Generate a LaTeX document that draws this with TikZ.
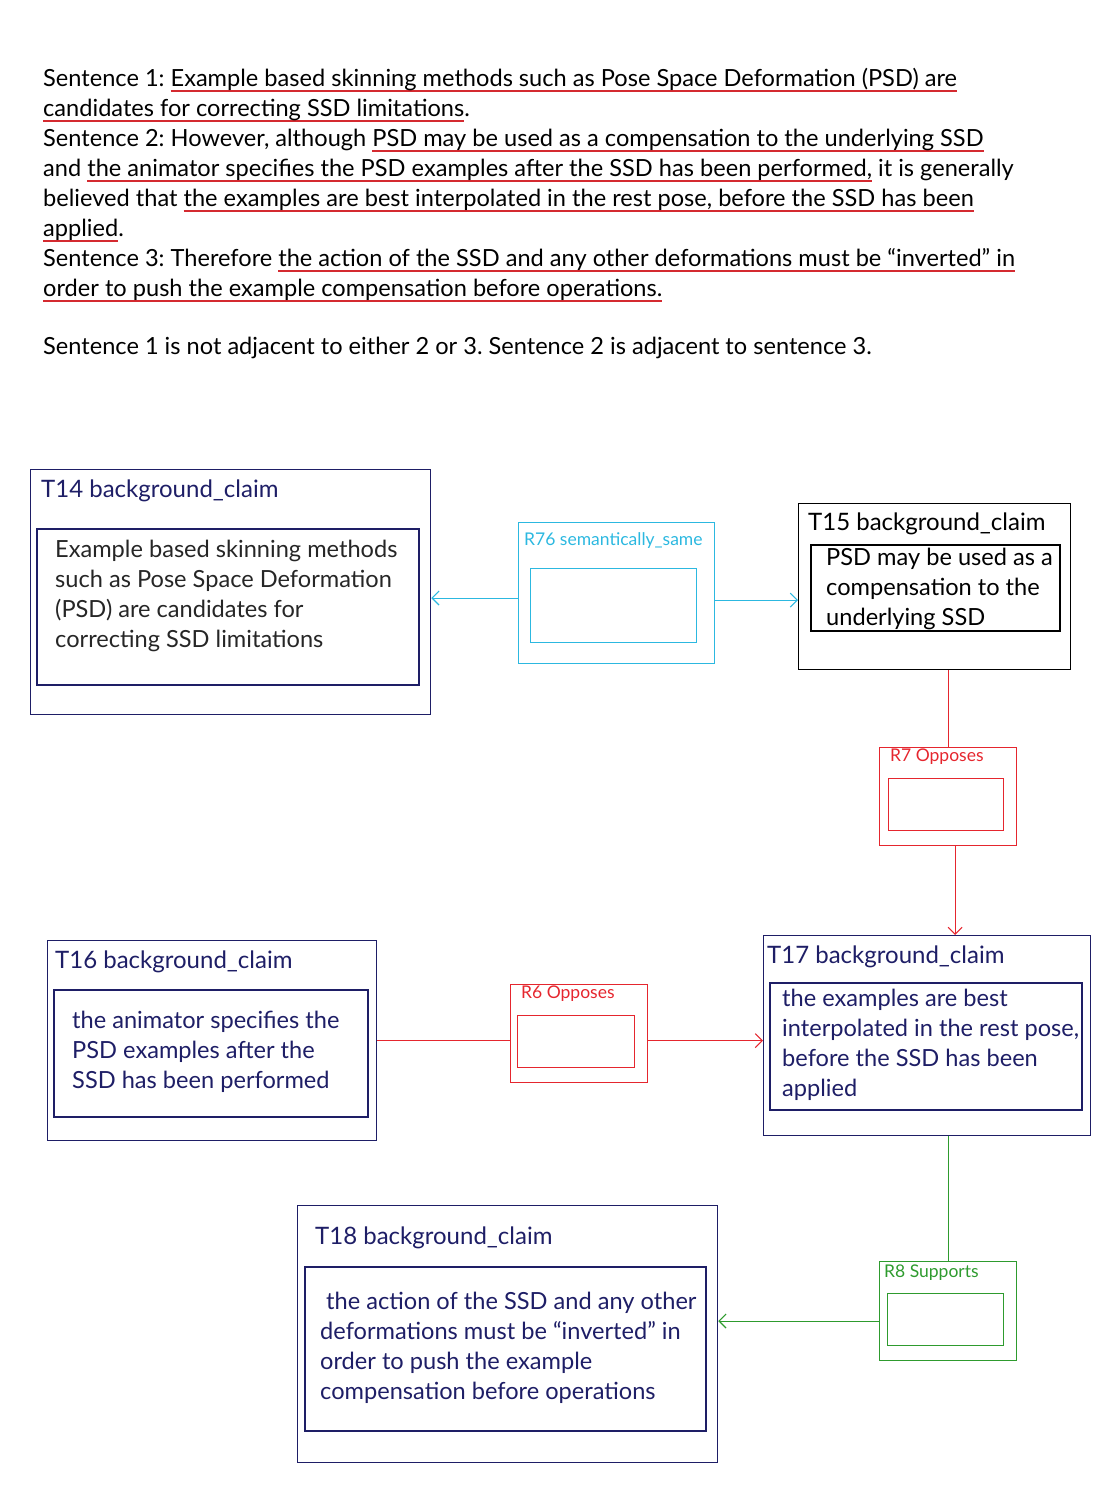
\documentclass[tikz,border=0pt]{standalone}
\usepackage{fontspec}
\setmainfont{Lato}
\usepackage{xcolor}
\usepackage{tikz}
\usetikzlibrary{positioning,arrows.meta}
\definecolor{claimnavy}{HTML}{1E1E66}
\definecolor{ulred}{HTML}{D42A30}
\definecolor{opposered}{HTML}{E5262E}
\definecolor{samecyan}{HTML}{2CB8E0}
\definecolor{supportgreen}{HTML}{2E9B2E}
\newcommand\redul[1]{\setbox0\hbox{#1}\rlap{\textcolor{ulred}{\rule[-5pt]{\wd0}{1.4pt}}}\box0\relax}
\frenchspacing

\begin{document}
\begin{tikzpicture}[
x=1pt, y=-1pt,
claimbox/.style={
draw=claimnavy,
line width=1.3pt,
anchor=north west,
inner sep=0pt
},
claiminner/.style={
draw=claimnavy,
line width=1.7pt,
anchor=north west,
inner sep=0pt
},
claimtitle/.style={
anchor=west,
inner sep=0pt,
text=claimnavy,
font=\fontsize{24}{30}\selectfont
},
claimtext/.style={
anchor=north west,
inner sep=0pt,
align=left,
text=claimnavy,
font=\fontsize{23.6}{30}\selectfont
},
relbox/.style={
draw=#1,
line width=1.1pt,
anchor=north west,
inner sep=0pt
},
rellabel/.style={
anchor=west,
inner sep=0pt,
text=#1,
font=\fontsize{17.5}{20}\selectfont
},
relarrow/.style={
-{Straight Barb[length=7pt,width=14pt]},
line width=1.1pt,
color=#1
},
relline/.style={
line width=1.1pt,
color=#1
}
]
\useasboundingbox (0,0) rectangle (1097,1500);

% the three sentences
\node[anchor=north west, inner sep=0pt, align=left, text=black,
font=\fontsize{23.6}{30}\selectfont] (sentences) at (43,68)
{Sentence 1: \redul{Example based skinning methods such as Pose Space Deformation (PSD) are}\\
\redul{candidates for correcting SSD limitations}.\\
Sentence 2: However, although \redul{PSD may be used as a compensation to the underlying SSD}\\
and \redul{the animator specifies the PSD examples after the SSD has been performed,} it is generally\\
believed that \redul{the examples are best interpolated in the rest pose, before the SSD has been}\\
\redul{applied}.\\
Sentence 3: Therefore \redul{the action of the SSD and any other deformations must be “inverted” in}\\
\redul{order to push the example compensation before operations.}\\[28pt]
Sentence 1 is not adjacent to either 2 or 3. Sentence 2 is adjacent to sentence 3.};

% claims
\node[claimbox, minimum width=400pt, minimum height=245pt] (t14) at (30,469) {};
\node[claimtitle] (t14title) at (41,491) {T14 background\_claim};
\node[claiminner, minimum width=382pt, minimum height=156pt] (t14inner) at (36,528) {};
\node[claimtext, text=black!85] (t14text) at (55,540)
{Example based skinning methods\\such as Pose Space Deformation\\(PSD) are candidates for\\correcting SSD limitations};

\node[claimbox, draw=black, minimum width=272pt, minimum height=166pt] (t15) at (798,503) {};
\node[claimtitle, text=black] (t15title) at (808,524) {T15 background\_claim};
\node[claiminner, draw=black, minimum width=249pt, minimum height=86pt] (t15inner) at (810,544) {};
\node[claimtext, text=black] (t15text) at (826,548)
{PSD may be used as a\\compensation to the\\underlying SSD};

\node[claimbox, minimum width=329pt, minimum height=200pt] (t16) at (47,940) {};
\node[claimtitle] (t16title) at (55,962) {T16 background\_claim};
\node[claiminner, minimum width=314pt, minimum height=127pt] (t16inner) at (53,989) {};
\node[claimtext] (t16text) at (72,1011)
{the animator specifies the\\PSD examples after the\\SSD has been performed};

\node[claimbox, minimum width=327pt, minimum height=200pt] (t17) at (763,935) {};
\node[claimtitle] (t17title) at (767,957) {T17 background\_claim};
\node[claiminner, minimum width=312pt, minimum height=127pt] (t17inner) at (769,982) {};
\node[claimtext] (t17text) at (782,989)
{the examples are best\\interpolated in the rest pose,\\before the SSD has been\\applied};

\node[claimbox, minimum width=420pt, minimum height=257pt] (t18) at (297,1205) {};
\node[claimtitle] (t18title) at (315,1238) {T18 background\_claim};
\node[claiminner, minimum width=401pt, minimum height=164pt] (t18inner) at (304,1266) {};
\node[claimtext] (t18text) at (320,1292)
{\hspace*{6pt}the action of the SSD and any other\\deformations must be “inverted” in\\order to push the example\\compensation before operations};

% relations
\node[relbox=samecyan, minimum width=196pt, minimum height=141pt] (r76) at (518,522) {};
\node[rellabel=samecyan] (r76label) at (524,541) {R76 semantically\_same};
\node[relbox=samecyan, minimum width=166pt, minimum height=74pt] (r76inner) at (530,568) {};

\node[relbox=opposered, minimum width=137pt, minimum height=98pt] (r7) at (879,747) {};
\node[rellabel=opposered] (r7label) at (890,757) {R7 Opposes};
\node[relbox=opposered, minimum width=115pt, minimum height=52pt] (r7inner) at (888,778) {};

\node[relbox=opposered, minimum width=137pt, minimum height=98pt] (r6) at (510,984) {};
\node[rellabel=opposered] (r6label) at (521,994) {R6 Opposes};
\node[relbox=opposered, minimum width=117pt, minimum height=52pt] (r6inner) at (517,1015) {};

\node[relbox=supportgreen, minimum width=137pt, minimum height=99pt] (r8) at (879,1261) {};
\node[rellabel=supportgreen] (r8label) at (884,1273) {R8 Supports};
\node[relbox=supportgreen, minimum width=116pt, minimum height=52pt] (r8inner) at (887,1293) {};

% connectors
\draw[relarrow=samecyan] ([yshift=-5pt]r76.west) -- ([yshift=-5pt]r76.west -| t14.east);
\draw[relarrow=samecyan] ([yshift=-7pt]r76.east) -- ([yshift=-7pt]r76.east -| t15.west);

\draw[relline=opposered] (r7.north |- t15.south) -- (r7.north);
\draw[relarrow=opposered] ([xshift=7pt]r7.south) -- ([xshift=7pt]r7.south |- t17.north);

\draw[relline=opposered] (t16.east) -- (t16.east -| r6.west);
\draw[relarrow=opposered] (r6.east |- t16.east) -- (t16.east -| t17.west);

\draw[relline=supportgreen] (r8.north |- t17.south) -- (r8.north);
\draw[relarrow=supportgreen] ([yshift=-10pt]r8.west) -- ([yshift=-10pt]r8.west -| t18.east);

\end{tikzpicture}
\end{document}
